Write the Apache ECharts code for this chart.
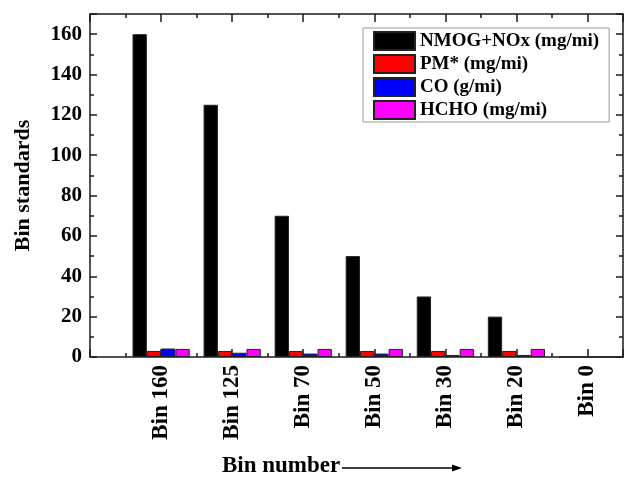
<!DOCTYPE html>
<html><head><meta charset="utf-8">
<script src="https://cdn.jsdelivr.net/npm/echarts@6/dist/echarts.min.js"></script>
<style>html,body{margin:0;padding:0;background:#fff}#c{width:624px;height:479px}</style>
</head><body><div id="c"></div>
<script>
const categories = ['Bin 160','Bin 125','Bin 70','Bin 50','Bin 30','Bin 20','Bin 0'];
const nmogNox = [160,125,70,50,30,20,0];
const pm = [3,3,3,3,3,3,0];
const co = [4.2,2.1,1.7,1.7,1.0,1.0,0];
const hcho = [4,4,4,4,4,4,0];
const seriesNames = ['NMOG+NOx (mg/mi)','PM* (mg/mi)','CO (g/mi)','HCHO (mg/mi)'];
const seriesColors = ['#000000','#ff0000','#0000ff','#ff00ff'];
const yTickLabels = [0,20,40,60,80,100,120,140,160];
const yTitle = 'Bin standards';
const xTitle = 'Bin number';

const FONT = '"Liberation Serif","Times New Roman",serif';
const lineC = '#1a1a1a';
const noSplit = {show:false};

function frameX(pos, interval, len, line, labels){
  return {
    gridIndex:0, type:'value', position:pos, min:-1, max:6.5, interval:interval,
    axisLine:{show:line, onZero:false, lineStyle:{color:lineC, width:1.5}},
    axisTick:{show:true, inside:true, length:len, lineStyle:{color:lineC, width:1.5}},
    splitLine:noSplit,
    axisLabel: labels ? {
      show:true, rotate:90, margin:8, color:'#000',
      fontFamily:FONT, fontWeight:'bold', fontSize:23,
      formatter:v => (Number.isInteger(v) && v>=0 && v<categories.length) ? categories[v] : ''
    } : {show:false}
  };
}
function frameY(pos, interval, len, line, labels){
  const a = {
    gridIndex:0, type:'value', position:pos, min:0, max:170, interval:interval,
    axisLine:{show:line, onZero:false, lineStyle:{color:lineC, width:1.5}},
    axisTick:{show:true, inside:true, length:len, lineStyle:{color:lineC, width:1.5}},
    splitLine:noSplit,
    axisLabel: labels ? {
      show:true, margin:8, color:'#000',
      fontFamily:FONT, fontWeight:'bold', fontSize:21,
      formatter:v => yTickLabels.indexOf(v) >= 0 ? String(v) : ''
    } : {show:false}
  };
  if (labels) {
    a.name = yTitle; a.nameLocation = 'middle'; a.nameGap = 56;
    a.nameTextStyle = {fontFamily:FONT, fontWeight:'bold', fontSize:22, color:'#000'};
  }
  return a;
}

const values = [nmogNox, pm, co, hcho];
const series = values.map((d,i) => ({
  name: seriesNames[i], type:'bar', xAxisIndex:4, yAxisIndex:4,
  data: d, barWidth:14.3, barGap:'0%',
  itemStyle:{color:seriesColors[i], borderColor:'#222', borderWidth:1}
}));

const option = {
  animation:false,
  backgroundColor:'#fff',
  grid:[
    {left:90, right:1, top:14, bottom:122, containLabel:false},
    {left:125.6, right:1, top:14, bottom:122, containLabel:false}
  ],
  xAxis:[
    frameX('bottom',1,8,true,true),
    frameX('bottom',0.5,4,false,false),
    frameX('top',1,8,true,false),
    frameX('top',0.5,4,false,false),
    {gridIndex:1, type:'category', data:categories, show:false}
  ],
  yAxis:[
    frameY('left',20,7,true,true),
    frameY('left',10,4,false,false),
    frameY('right',20,7,true,false),
    frameY('right',10,4,false,false),
    {gridIndex:1, type:'value', min:0, max:170, show:false}
  ],
  legend:{
    data:seriesNames, orient:'vertical', left:363, top:28,
    itemWidth:41, itemHeight:18, itemGap:3, icon:'rect',
    padding:[3,10,2,10], borderColor:'#999', borderWidth:1, backgroundColor:'#fff',
    textStyle:{fontFamily:FONT, fontWeight:'bold', fontSize:19, color:'#000'}
  },
  graphic:[
    {type:'text', left:222, top:455, style:{text:xTitle, font:'bold 23px ' + FONT, fill:'#000'}},
    {type:'line', shape:{x1:342, y1:468, x2:455, y2:468}, style:{stroke:'#000', lineWidth:1.5}},
    {type:'polygon', shape:{points:[[462,468],[452,464.5],[452,471.5]]}, style:{fill:'#000'}}
  ],
  series: series
};
echarts.init(document.getElementById('c'), null, {renderer:'canvas'}).setOption(option);
</script>
</body></html>
